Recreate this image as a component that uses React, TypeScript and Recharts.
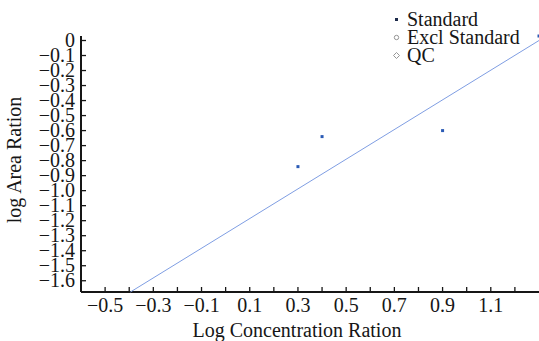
import React from 'react';
import { ScatterChart, Scatter, XAxis, YAxis, Legend } from 'recharts';

const standardX = [0.3, 0.4, 0.9, 1.3];
const standardY = [-0.84, -0.64, -0.6, 0.03];
const fitX = [-0.395, 1.3];
const fitY = [-1.675, 0.0];
const xTicks = [-0.5, -0.4, -0.3, -0.2, -0.1, 0, 0.1, 0.2, 0.3, 0.4, 0.5, 0.6, 0.7, 0.8, 0.9, 1.0, 1.1, 1.2];
const xLabeled = [-0.5, -0.3, -0.1, 0.1, 0.3, 0.5, 0.7, 0.9, 1.1];
const yTicks = [0, -0.1, -0.2, -0.3, -0.4, -0.5, -0.6, -0.7, -0.8, -0.9, -1.0, -1.1, -1.2, -1.3, -1.4, -1.5, -1.6];
const seriesNames = ['Standard', 'Excl Standard', 'QC'];

const standardData = standardX.map((x, i) => ({ x, y: standardY[i] }));
const fitData = fitX.map((x, i) => ({ x, y: fitY[i] }));

const FONT = '"Liberation Serif", "Times New Roman", serif';
const INK = '#161616';

const fmt = (v: number) => {
  if (Math.abs(v) < 1e-9) return '0';
  const s = Math.abs(v).toFixed(1);
  return v < 0 ? '\u2212' + s : s;
};

const XTick = (props: any) => {
  const { x, y, payload } = props;
  const v = payload.value;
  const showLabel = xLabeled.some((t) => Math.abs(t - v) < 1e-6);
  return (
    <g>
      <line x1={x} x2={x} y1={y} y2={y - 5} stroke={INK} strokeWidth={1.3} />
      {showLabel && (
        <text x={x} y={y + 20} textAnchor="middle" fill={INK} fontFamily={FONT} fontSize={20}>
          {fmt(v)}
        </text>
      )}
    </g>
  );
};

const YTick = (props: any) => {
  const { x, y, payload } = props;
  return (
    <g>
      <line x1={x} x2={x + 5} y1={y} y2={y} stroke={INK} strokeWidth={1.3} />
      <text x={x - 6} y={y} dy="0.33em" textAnchor="end" fill={INK} fontFamily={FONT} fontSize={20}>
        {fmt(payload.value)}
      </text>
    </g>
  );
};

const Marker = ({ name }: { name: string }) => {
  if (name === 'Standard') {
    return (
      <svg width={9} height={9} style={{ display: 'block' }}>
        <rect x={3} y={3} width={3} height={3} fill="#1c2a4a" />
      </svg>
    );
  }
  if (name === 'Excl Standard') {
    return (
      <svg width={9} height={9} style={{ display: 'block' }}>
        <circle cx={4.5} cy={4.5} r={2.2} fill="none" stroke="#8a8a8a" strokeWidth={0.9} />
      </svg>
    );
  }
  return (
    <svg width={9} height={9} style={{ display: 'block' }}>
      <polygon points="4.5,1.5 7.5,4.5 4.5,7.5 1.5,4.5" fill="none" stroke="#8a8a8a" strokeWidth={0.9} />
    </svg>
  );
};

const renderLegend = (props: any) => {
  const payload = props.payload || [];
  const items = seriesNames.filter((n) => payload.some((p: any) => p.value === n));
  return (
    <div style={{ fontFamily: FONT, fontSize: 20, color: INK }}>
      {items.map((n) => (
        <div key={n} style={{ display: 'flex', alignItems: 'center', height: 18 }}>
          <Marker name={n} />
          <span style={{ marginLeft: 6, lineHeight: '18px', whiteSpace: 'nowrap' }}>{n}</span>
        </div>
      ))}
    </div>
  );
};

export default function App() {
  return (
    <div style={{ position: 'absolute', left: 0, top: 0, width: 539, height: 341, background: '#fff' }}>
      <ScatterChart width={539} height={341} margin={{ top: 36, right: 0, bottom: 0, left: 0 }}>
        <XAxis
          type="number"
          dataKey="x"
          domain={[-0.6, 1.3]}
          ticks={xTicks}
          interval={0}
          height={49}
          tickSize={0}
          tickMargin={0}
          tickLine={false}
          axisLine={{ stroke: INK, strokeWidth: 2 }}
          tick={<XTick />}
          label={{
            content: () => (
              <text x={297} y={337} textAnchor="middle" fill={INK} fontFamily={FONT} fontSize={20}>
                Log Concentration Ration
              </text>
            ),
          }}
        />
        <YAxis
          type="number"
          dataKey="y"
          domain={[-1.675, 0.03]}
          ticks={yTicks}
          interval={0}
          width={81}
          tickSize={0}
          tickMargin={0}
          tickLine={false}
          axisLine={{ stroke: INK, strokeWidth: 2 }}
          tick={<YTick />}
          label={{
            content: () => (
              <text
                x={20.5}
                y={160}
                transform="rotate(-90 20.5 160)"
                textAnchor="middle"
                fill={INK}
                fontFamily={FONT}
                fontSize={20}
              >
                log Area Ration
              </text>
            ),
          }}
        />
        <Legend
          layout="vertical"
          verticalAlign="middle"
          align="center"
          content={renderLegend}
          wrapperStyle={{ position: 'absolute', left: 392, top: 10, width: 160 }}
        />
        <Scatter
          name="fit"
          data={fitData}
          line={{ stroke: '#7f9ee3', strokeWidth: 1 }}
          shape={() => <g />}
          legendType="none"
          isAnimationActive={false}
        />
        <Scatter
          name={seriesNames[0]}
          data={standardData}
          fill="#2b5bb5"
          shape={(p: any) => <rect x={p.cx - 1.5} y={p.cy - 1.5} width={3} height={3} fill="#2b5bb5" />}
          isAnimationActive={false}
        />
        <Scatter name={seriesNames[1]} data={[]} fill="#8a8a8a" isAnimationActive={false} />
        <Scatter name={seriesNames[2]} data={[]} fill="#8a8a8a" isAnimationActive={false} />
      </ScatterChart>
    </div>
  );
}
